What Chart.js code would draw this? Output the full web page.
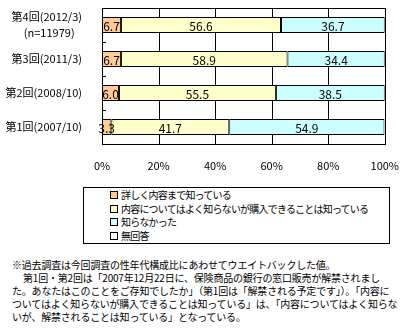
<!DOCTYPE html>
<html>
<head>
<meta charset="utf-8">
<script src="https://cdn.jsdelivr.net/npm/chart.js@4"></script>
<style>
body { margin: 0; background: #fff; font-family: "Noto Sans CJK JP", sans-serif; }
#wrap { position: relative; width: 406px; height: 329px; }
#chartBox { position: absolute; left: 0; top: 0; width: 406px; height: 172px; }
#legend { position: absolute; left: 83px; top: 187px; width: 305px; height: 55px; border: 1px solid #000; font-size: 10px; letter-spacing: -0.8px; color: #000; }
#legend div { position: absolute; left: 26px; white-space: nowrap; line-height: 13px; }
#legend span.sw { display: inline-block; width: 6px; height: 6px; border: 1px solid #000; margin-right: 3px; vertical-align: 0px; }
#notes { position: absolute; left: 12px; top: 258px; font-size: 10px; letter-spacing: -0.2px; line-height: 13px; white-space: nowrap; color: #000; }
#notes .ind { padding-left: 11px; }
</style>
</head>
<body>
<div id="wrap">
  <div id="chartBox"><canvas id="c"></canvas></div>
  <div id="legend"></div>
  <div id="notes">※過去調査は今回調査の性年代構成比にあわせてウエイトバックした値。<br><span class="ind">第1回・第2回は「2007年12月22日に、保険商品の銀行の窓口販売が解禁されまし</span><br>た。あなたはこのことをご存知でしたか」（第1回は「解禁される予定です」）。「内容に<br>ついてはよく知らないが購入できることは知っている」は、「内容についてはよく知らな<br>いが、解禁されることは知っている」となっている。</div>
</div>
<script>
var categories = [["第4回(2012/3)", "(n=11979)   "], "第3回(2011/3)", "第2回(2008/10)", "第1回(2007/10)"];
var seriesNames = ["詳しく内容まで知っている", "内容についてはよく知らないが購入できることは知っている", "知らなかった", "無回答"];
var detailed = [6.7, 6.7, 6.0, 3.3];
var buyKnown = [56.6, 58.9, 55.5, 41.7];
var notKnown = [36.7, 34.4, 38.5, 54.9];
var noAnswer = [0, 0, 0, 0.1];
var colors = ["#FFCC99", "#FFFFCC", "#CCFFFF", "#FFFFFF"];
var tickLabels = ["0%", "20%", "40%", "60%", "80%", "100%"];

var seriesData = [detailed, buyKnown, notKnown, noAnswer];

// value labels in the middle of each segment
var valueLabels = {
    id: 'valueLabels',
    afterDatasetsDraw: function(chart) {
        var ctx = chart.ctx;
        ctx.save();
        ctx.font = '12px "Noto Sans CJK JP"';
        ctx.fillStyle = '#000';
        ctx.textAlign = 'center';
        ctx.textBaseline = 'middle';
        chart.data.datasets.forEach(function(ds, i) {
            if (i > 2) return;
            chart.getDatasetMeta(i).data.forEach(function(bar, j) {
                var v = ds.data[j];
                var x = (bar.x + bar.base) / 2;
                ctx.fillText(v.toFixed(1), x, bar.y + 1);
            });
        });
        ctx.restore();
    }
};

// box round the plot area, vertical grid and small marks between categories
var plotFrame = {
    id: 'plotFrame',
    beforeDatasetsDraw: function(chart) {
        var a = chart.chartArea;
        var ctx = chart.ctx;
        var xs = chart.scales.x;
        ctx.save();
        ctx.strokeStyle = '#000';
        ctx.lineWidth = 1;
        ctx.beginPath();
        xs.ticks.forEach(function(t) {
            var px = Math.round(xs.getPixelForValue(t.value)) + 0.5;
            ctx.moveTo(px, a.top);
            ctx.lineTo(px, a.bottom);
        });
        ctx.stroke();
        ctx.restore();
    },
    afterDraw: function(chart) {
        var a = chart.chartArea;
        var ctx = chart.ctx;
        var ys = chart.scales.y;
        ctx.save();
        ctx.strokeStyle = '#000';
        ctx.lineWidth = 1;
        ctx.strokeRect(Math.round(a.left) + 0.5, Math.round(a.top) + 0.5, Math.round(a.right - a.left), Math.round(a.bottom - a.top));
        ctx.beginPath();
        for (var i = 0; i < categories.length - 1; i++) {
            var py = Math.round((ys.getPixelForValue(i) + ys.getPixelForValue(i + 1)) / 2) + 0.5;
            ctx.moveTo(a.left, py);
            ctx.lineTo(a.left + 4, py);
        }
        ctx.stroke();
        ctx.restore();
    }
};

var datasets = seriesData.map(function(d, i) {
    return {
        label: seriesNames[i],
        data: d,
        backgroundColor: colors[i],
        borderColor: '#000',
        borderWidth: 1,
        borderSkipped: false,
        barPercentage: 0.47,
        categoryPercentage: 1.0
    };
});

new Chart(document.getElementById('c'), {
    type: 'bar',
    data: { labels: categories, datasets: datasets },
    options: {
        indexAxis: 'y',
        responsive: true,
        maintainAspectRatio: false,
        animation: false,
        layout: { padding: { top: 8, right: 18, left: 0, bottom: 0 } },
        plugins: {
            legend: { display: false },
            tooltip: { enabled: false }
        },
        scales: {
            x: {
                stacked: true,
                min: 0,
                max: 100,
                afterBuildTicks: function(axis) {
                    axis.ticks = tickLabels.map(function(t, i) { return { value: i * 20 }; });
                },
                ticks: {
                    callback: function(v, i) { return tickLabels[i]; },
                    color: '#000',
                    font: { family: '"Noto Sans CJK JP"', size: 11 },
                    padding: 7,
                    maxRotation: 0
                },
                grid: { display: false },
                border: { display: false },
                afterFit: function(axis) { axis.height = 28; }
            },
            y: {
                stacked: true,
                ticks: {
                    color: '#000',
                    font: { family: '"Noto Sans CJK JP"', size: 11, lineHeight: 1.4 },
                    padding: 12,
                    autoSkip: false
                },
                grid: { display: false },
                border: { display: false },
                afterFit: function(axis) {
                    axis.width = 102;
                    axis.paddingTop = 0;
                    axis.paddingBottom = 0;
                }
            }
        }
    },
    plugins: [valueLabels, plotFrame]
});

// legend built from the series names and colours
var leg = document.getElementById('legend');
seriesNames.forEach(function(n, i) {
    var d = document.createElement('div');
    d.style.top = (0 + i * 13.5) + 'px';
    d.innerHTML = '<span class="sw" style="background:' + colors[i] + '"></span>' + n;
    leg.appendChild(d);
});
</script>
</body>
</html>
